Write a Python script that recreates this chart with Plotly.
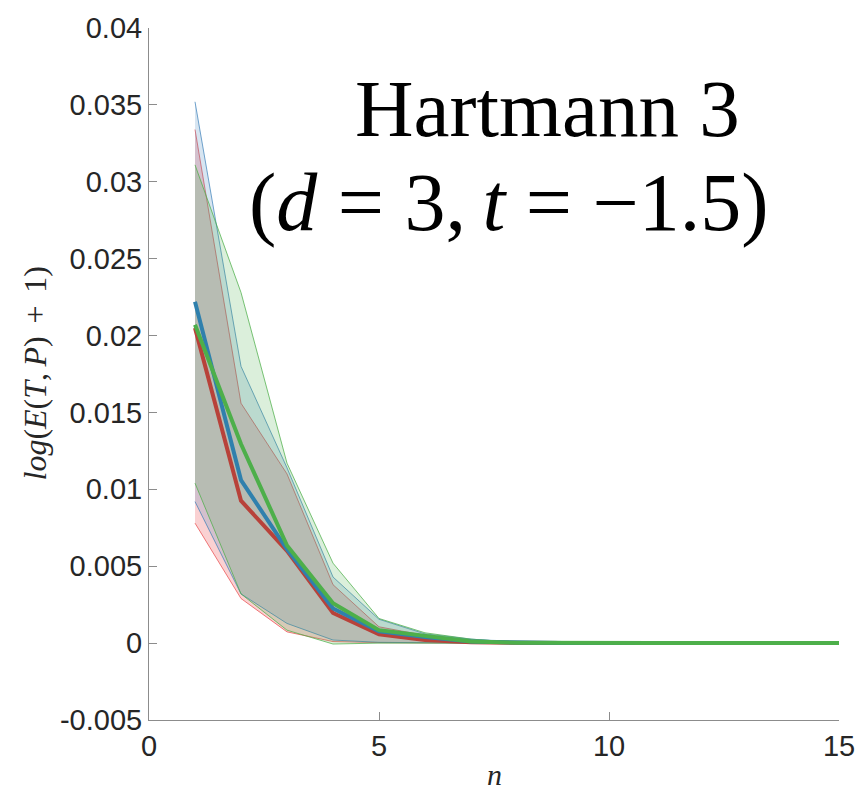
import plotly.graph_objects as go

n = list(range(1, 16))

blue_mean  = [0.0222, 0.0106, 0.0061, 0.00225, 0.00077, 0.0004, 0.0001, 0.00003, 0, 0, 0, 0, 0, 0, 0]
blue_upper = [0.0352, 0.0180, 0.0114, 0.0043, 0.00155, 0.0006, 0.00026, 0.00005, 0, 0, 0, 0, 0, 0, 0]
blue_lower = [0.0092, 0.0032, 0.00128, 0.0002, 0.00005, 0.00001, 0, 0, 0, 0, 0, 0, 0, 0, 0]

red_mean  = [0.0205, 0.00926, 0.0060, 0.00196, 0.00058, 0.0002, 0.00005, 0, 0, 0, 0, 0, 0, 0, 0]
red_upper = [0.0334, 0.0156, 0.0110, 0.0038, 0.00106, 0.0005, 0.0002, 0.00003, 0, 0, 0, 0, 0, 0, 0]
red_lower = [0.0078, 0.0029, 0.00073, 0.0001, 0.00003, 0, 0, 0, 0, 0, 0, 0, 0, 0, 0]

green_mean  = [0.0207, 0.01295, 0.00635, 0.0026, 0.00084, 0.00045, 0.0001, 0.00003, 0, 0, 0, 0, 0, 0, 0]
green_upper = [0.0311, 0.0228, 0.0117, 0.0052, 0.0016, 0.00067, 0.00026, 0.00005, 0, 0, 0, 0, 0, 0, 0]
green_lower = [0.0104, 0.0032, 0.00084, -0.00006, 0.0, 0, 0, 0, 0, 0, 0, 0, 0, 0, 0]

ytick_vals = [-0.005, 0, 0.005, 0.01, 0.015, 0.02, 0.025, 0.03, 0.035, 0.04]
ytick_text = ["-0.005", "0", "0.005", "0.01", "0.015", "0.02", "0.025", "0.03", "0.035", "0.04"]
xtick_vals = [0, 5, 10, 15]

series = {
    "red": (red_mean, red_upper, red_lower, "rgba(228,26,28,0.2)", "rgba(228,26,28,0.55)", "#b8423a"),
    "blue": (blue_mean, blue_upper, blue_lower, "rgba(55,126,184,0.2)", "rgba(55,126,184,0.7)", "#2f80ad"),
    "green": (green_mean, green_upper, green_lower, "rgba(77,175,74,0.2)", "rgba(77,175,74,0.75)", "#4daf4a"),
}

fig = go.Figure()
for name in ["red", "blue", "green"]:
    m, u, l, fillc, edgec, linec = series[name]
    fig.add_trace(go.Scatter(x=n, y=u, mode="lines", line=dict(color=edgec, width=1),
                             showlegend=False, hoverinfo="skip"))
    fig.add_trace(go.Scatter(x=n, y=l, mode="lines", line=dict(color=edgec, width=1),
                             fill="tonexty", fillcolor=fillc, showlegend=False, hoverinfo="skip"))

for name in ["red", "blue", "green"]:
    m, u, l, fillc, edgec, linec = series[name]
    fig.add_trace(go.Scatter(x=n, y=m, mode="lines", line=dict(color=linec, width=4),
                             showlegend=False))

axis_common = dict(
    showgrid=False, zeroline=False, showline=True, linecolor="#8c8c8c", linewidth=1,
    ticks="inside", ticklen=8, tickcolor="#8c8c8c",
    tickfont=dict(family="Liberation Sans, Arial, sans-serif", size=29, color="#262626"),
)

fig.update_xaxes(range=[0, 15], tickvals=xtick_vals, **axis_common)
fig.update_yaxes(range=[-0.005, 0.04], tickvals=ytick_vals, ticktext=ytick_text, **axis_common)

# axis titles as annotations for precise placement
fig.add_annotation(x=(497 - 149) / 696, y=(720 - 775) / 695, xref="paper", yref="paper",
                   text="<i>n</i>", showarrow=False, xanchor="center", yanchor="middle",
                   font=dict(family="Liberation Serif, serif", size=30, color="#262626"))
fig.add_annotation(x=(34 - 149) / 696, y=(720 - 372) / 695, xref="paper", yref="paper",
                   text="<i>log</i>(<i>E</i>(<i>T</i>,\u2009<i>P</i>)\u2009\u2009+\u2009\u20091)",
                   textangle=-90, showarrow=False, xanchor="center", yanchor="middle",
                   font=dict(family="Liberation Serif, serif", size=32, color="#262626"))

fig.add_annotation(x=0.578, y=0.883, xref="paper", yref="paper", text="Hartmann 3",
                   showarrow=False, xanchor="center", yanchor="middle",
                   font=dict(family="Liberation Serif, serif", size=81, color="black"))
fig.add_annotation(x=0.522, y=0.748, xref="paper", yref="paper",
                   text="(<i>d</i> = 3,\u2009<i>t</i> = −1.5)",
                   showarrow=False, xanchor="center", yanchor="middle",
                   font=dict(family="Liberation Serif, serif", size=82, color="black"))

fig.update_layout(
    width=867, height=792,
    margin=dict(l=149, r=22, t=25, b=72),
    plot_bgcolor="white", paper_bgcolor="white",
)

fig.write_html("out.html")
